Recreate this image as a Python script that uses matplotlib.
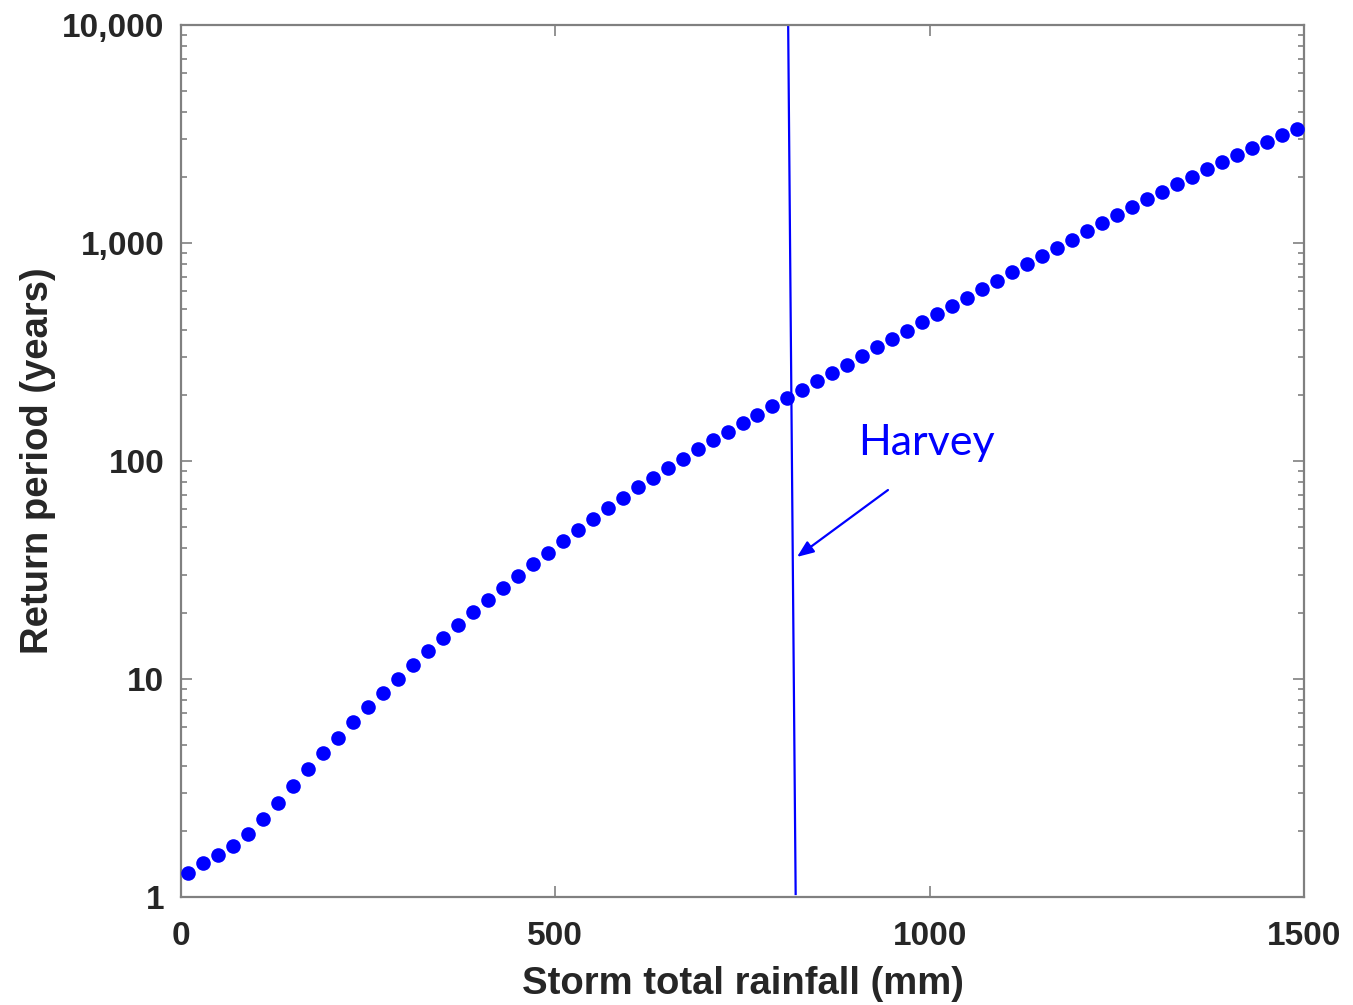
import matplotlib
matplotlib.use("Agg")
import matplotlib.pyplot as plt
from matplotlib.ticker import FixedLocator, FixedFormatter, LogLocator, NullFormatter, NullLocator

# Data
rainfall_mm = [10, 30, 50, 70, 90, 110, 130, 150, 170, 190,
               210, 230, 250, 270, 290, 310, 330, 350, 370, 390,
               410, 430, 450, 470, 490, 510, 530, 550, 570, 590,
               610, 630, 650, 670, 690, 710, 730, 750, 770, 790,
               810, 830, 850, 870, 890, 910, 930, 950, 970, 990,
               1010, 1030, 1050, 1070, 1090, 1110, 1130, 1150, 1170, 1190,
               1210, 1230, 1250, 1270, 1290, 1310, 1330, 1350, 1370, 1390,
               1410, 1430, 1450, 1470, 1490]
return_period = [1.293, 1.428, 1.554, 1.714, 1.945, 2.272, 2.708, 3.230, 3.866, 4.590,
                 5.379, 6.330, 7.438, 8.627, 10.0, 11.59, 13.44, 15.47, 17.69, 20.23,
                 23.11, 26.23, 29.68, 33.58, 37.97, 42.82, 48.10, 54.19, 60.67, 67.86,
                 75.97, 83.83, 92.88, 102.5, 113.5, 124.8, 136.3, 149.9, 163.1, 178.2,
                 194.5, 212.4, 232.1, 253.3, 276.5, 302.2, 332.3, 362.7, 396.0, 432.7,
                 472.4, 515.8, 562.3, 615.2, 671.6, 733.8, 798.5, 871.6, 951.5, 1035,
                 1131, 1235, 1340, 1463, 1587, 1719, 1865, 2015, 2185, 2360,
                 2533, 2719, 2916, 3119, 3323]

harvey_line_x = [811, 821]
harvey_line_y = [10000, 1.032]

x_ticks = [0, 500, 1000, 1500]
x_tick_labels = ["0", "500", "1000", "1500"]
y_ticks = [1, 10, 100, 1000, 10000]
y_tick_labels = ["1", "10", "100", "1,000", "10,000"]

plt.rcParams['font.family'] = ['Liberation Sans', 'DejaVu Sans']

fig = plt.figure(figsize=(13.53, 10.05), dpi=100)
ax = fig.add_axes([181/1353, 1 - 897/1005, (1304-181)/1353, (897-25)/1005])

ax.plot(rainfall_mm, return_period, 'o', color='#0000ff', markersize=10.5,
        markeredgewidth=0, zorder=3)
ax.plot(harvey_line_x, harvey_line_y, '-', color='#0000ff', linewidth=1.6, zorder=2)

ax.set_yscale('log')
ax.set_xlim(0, 1500)
ax.set_ylim(1, 10000)

ax.xaxis.set_major_locator(FixedLocator(x_ticks))
ax.xaxis.set_major_formatter(FixedFormatter(x_tick_labels))
ax.xaxis.set_minor_locator(NullLocator())
ax.yaxis.set_major_locator(FixedLocator(y_ticks))
ax.yaxis.set_major_formatter(FixedFormatter(y_tick_labels))
ax.yaxis.set_minor_locator(LogLocator(base=10, subs=range(2, 10)))
ax.yaxis.set_minor_formatter(NullFormatter())

spine_color = '#808080'
for s in ax.spines.values():
    s.set_color(spine_color)
    s.set_linewidth(1.6)

ax.tick_params(which='both', direction='in', top=True, right=True,
               color=spine_color, width=1.2)
ax.tick_params(which='major', length=8)
ax.tick_params(which='minor', length=4)
ax.tick_params(axis='x', which='major', pad=17, labelsize=24, labelcolor='#262626')
ax.tick_params(axis='y', which='major', pad=12, labelsize=24, labelcolor='#262626')
for lbl in ax.get_xticklabels() + ax.get_yticklabels():
    lbl.set_fontweight('bold')

ax.set_xlabel('Storm total rainfall (mm)', fontsize=27.5, fontweight='bold',
              color='#262626', labelpad=10)
ax.set_ylabel('Return period (years)', fontsize=27.5, fontweight='bold',
              color='#262626', labelpad=4)

ax.annotate('', xy=(822.8, 36.3), xytext=(944.3, 73.6),
            arrowprops=dict(arrowstyle='-|>,head_length=1.0,head_width=0.4',
                            color='#0000ff', lw=1.6, shrinkA=0, shrinkB=0))
ax.text(904.2, 10**((897-455)/218), 'Harvey', fontsize=31, color='#0000ff',
        family=['Lato', 'DejaVu Sans'], ha='left', va='baseline')

fig.savefig('out.png', dpi=100)
